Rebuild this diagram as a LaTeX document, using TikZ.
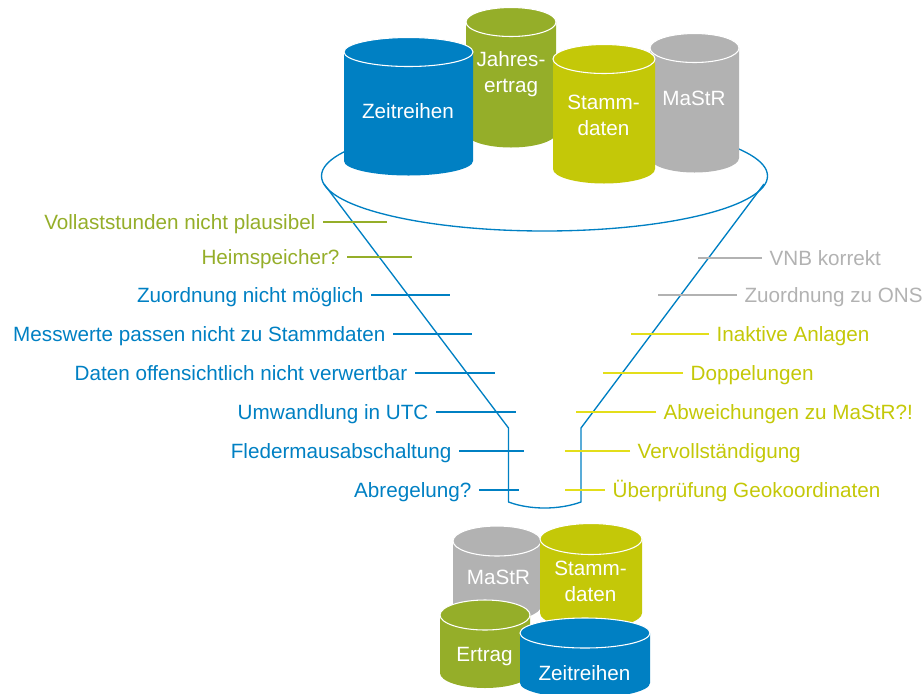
\documentclass[tikz,border=0pt]{standalone}
\usepackage{fontspec}
\setmainfont{Liberation Sans}
\definecolor{cblue}{HTML}{0080C3}
\definecolor{cgreen}{HTML}{95AE29}
\definecolor{cyellow}{HTML}{C4C808}
\definecolor{cyline}{HTML}{E3DE1A}
\definecolor{cgray}{HTML}{B2B2B2}
% \cyl{colour}{left}{right}{cap centre y}{side bottom y}{ry}
\newcommand{\cyl}[6]{%
  \pgfmathsetmacro{\cxx}{(#2+#3)/2}\pgfmathsetmacro{\rxx}{(#3-#2)/2}%
  \fill[#1] (#2,#4) -- (#2,#5) .. controls (#2,#5+0.55*#6) and (\cxx-0.55*\rxx,#5+#6) .. (\cxx,#5+#6)
     .. controls (\cxx+0.55*\rxx,#5+#6) and (#3,#5+0.55*#6) .. (#3,#5) -- (#3,#4) -- cycle;
  \draw[white,line width=0.8pt,fill=#1] (\cxx,#4) ellipse [x radius=\rxx*0.75pt,y radius=#6*0.75pt];
}
\tikzset{
  cyltext/.style={text=white,font=\fontsize{15.5}{19.5}\selectfont,align=center,inner sep=0pt},
  tag/.style={font=\fontsize{15.5}{18}\selectfont,text height=11pt,text depth=0pt,inner ysep=0pt,inner xsep=5.5pt},
  tagl/.style={tag,anchor=east},
  tagr/.style={tag,anchor=west},
  funnel/.style={cblue,line width=1pt},
  tick/.style={line width=0.8pt}
}
\begin{document}
\begin{tikzpicture}[x=0.75pt,y=-0.75pt]
\useasboundingbox (0,0) rectangle (924,693);
\clip (0,0) rectangle (924,693);
% funnel
\draw[funnel] (544.5,176) ellipse [x radius=223*0.75pt,y radius=55*0.75pt];
\coordinate (fa) at (324,184);
\coordinate (fb) at (508.5,428);
\coordinate (fc) at (508.5,502);
\coordinate (fd) at (581,502);
\coordinate (fe) at (581,428);
\coordinate (ff) at (764,184);
\draw[funnel,line join=round] (fa) -- (fb) -- (fc) .. controls (530,510) and (559,510) .. (fd) -- (fe) -- (ff);
% upper cylinders
\cyl{cgreen}{466}{556}{22}{133}{14.5}
\cyl{cgray}{650}{739}{48}{158}{14.5}
\cyl{cblue}{344}{473}{52}{161}{14.5}
\cyl{cyellow}{553}{655}{59}{169}{14.5}
\node[cyltext] (u1) at (408,111) {Zeitreihen};
\node[cyltext] (u2) at (511,74) {Jahres-\\ertrag};
\node[cyltext] (u3) at (603.5,115) {Stamm-\\daten};
\node[cyltext] (u4) at (694,98) {MaStR};
% lower cylinders
\cyl{cgray}{453}{541}{541}{606}{15}
\cyl{cyellow}{540}{642}{539}{613}{15.5}
\cyl{cgreen}{440}{530}{615}{673}{15}
\cyl{cblue}{520}{650}{633}{683}{15}
\node[cyltext] (l1) at (498.5,577) {MaStR};
\node[cyltext] (l2) at (590.5,581) {Stamm-\\daten};
\node[cyltext] (l3) at (484.5,657) {Ertrag};
\node[cyltext] (l4) at (584.5,673) {Zeitreihen};
% left labels
\node[tagl,text=cgreen] (a1) at (323,222) {Vollaststunden nicht plausibel};
\coordinate (a1e) at (387,222); \draw[tick,cgreen] (a1) -- (a1e);
\node[tagl,text=cgreen] (a2) at (347,257) {Heimspeicher?};
\coordinate (a2e) at (412,257); \draw[tick,cgreen] (a2) -- (a2e);
\node[tagl,text=cblue] (a3) at (371,295) {Zuordnung nicht möglich};
\coordinate (a3e) at (450,295); \draw[tick,cblue] (a3) -- (a3e);
\node[tagl,text=cblue] (a4) at (393,334) {Messwerte passen nicht zu Stammdaten};
\coordinate (a4e) at (472,334); \draw[tick,cblue] (a4) -- (a4e);
\node[tagl,text=cblue] (a5) at (415,373) {Daten offensichtlich nicht verwertbar};
\coordinate (a5e) at (495,373); \draw[tick,cblue] (a5) -- (a5e);
\node[tagl,text=cblue] (a6) at (436,412) {Umwandlung in UTC};
\coordinate (a6e) at (516,412); \draw[tick,cblue] (a6) -- (a6e);
\node[tagl,text=cblue] (a7) at (459,451) {Fledermausabschaltung};
\coordinate (a7e) at (524,451); \draw[tick,cblue] (a7) -- (a7e);
\node[tagl,text=cblue] (a8) at (479,490) {Abregelung?};
\coordinate (a8e) at (519,490); \draw[tick,cblue] (a8) -- (a8e);
% right labels
\node[tagr,text=cgray] (b1) at (762,258) {VNB korrekt};
\coordinate (b1e) at (698,258); \draw[tick,cgray] (b1) -- (b1e);
\node[tagr,text=cgray] (b2) at (737,295) {Zuordnung zu ONS};
\coordinate (b2e) at (658,295); \draw[tick,cgray] (b2) -- (b2e);
\node[tagr,text=cyellow] (b3) at (709,334) {Inaktive Anlagen};
\coordinate (b3e) at (631,334); \draw[tick,cyline] (b3) -- (b3e);
\node[tagr,text=cyellow] (b4) at (683,373) {Doppelungen};
\coordinate (b4e) at (603,373); \draw[tick,cyline] (b4) -- (b4e);
\node[tagr,text=cyellow] (b5) at (656,412) {Abweichungen zu MaStR?!};
\coordinate (b5e) at (576,412); \draw[tick,cyline] (b5) -- (b5e);
\node[tagr,text=cyellow] (b6) at (630,451) {Vervollständigung};
\coordinate (b6e) at (565,451); \draw[tick,cyline] (b6) -- (b6e);
\node[tagr,text=cyellow] (b7) at (605,490) {Überprüfung Geokoordinaten};
\coordinate (b7e) at (565,490); \draw[tick,cyline] (b7) -- (b7e);
\end{tikzpicture}
\end{document}
